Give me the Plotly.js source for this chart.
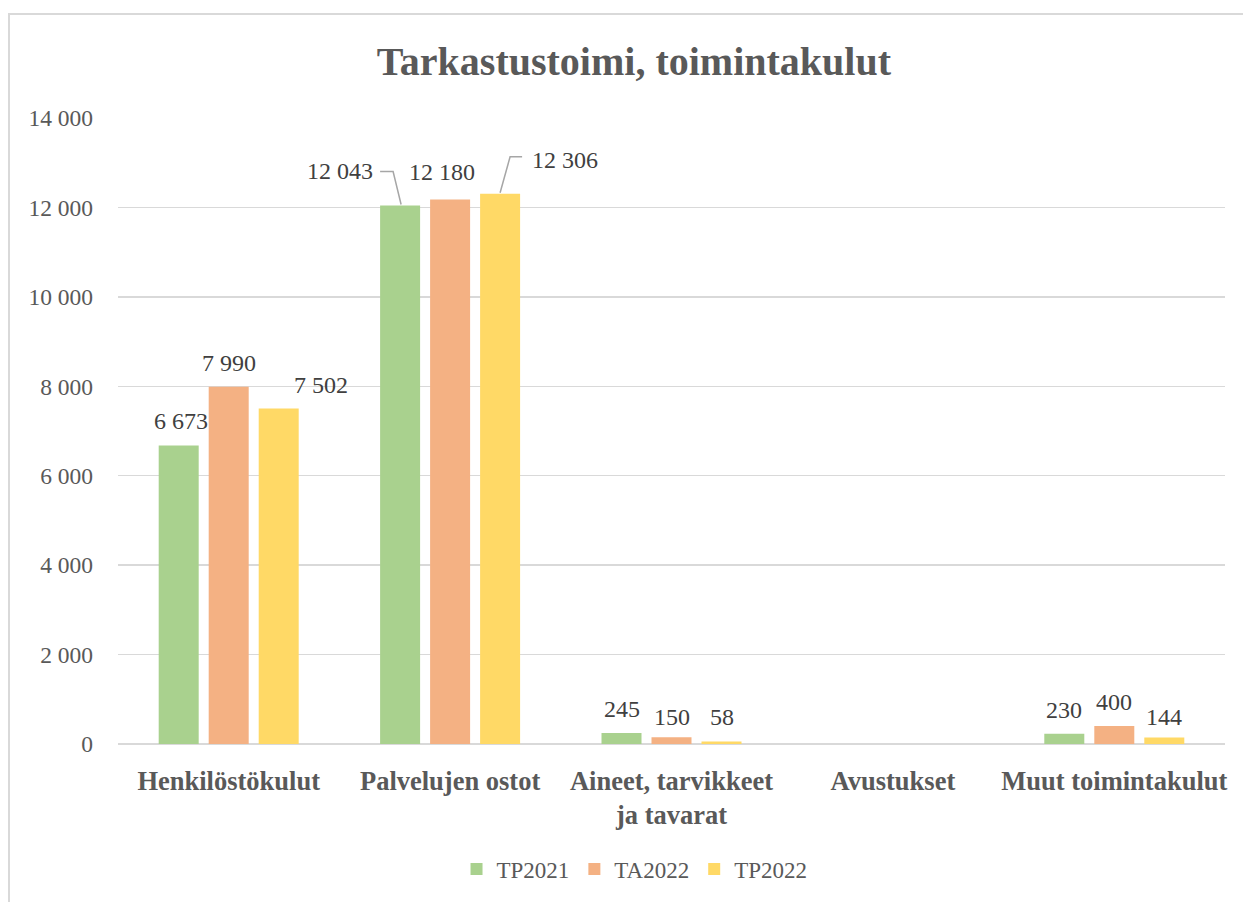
<!DOCTYPE html>
<html>
<head>
<meta charset="utf-8">
<script src="https://cdn.plot.ly/plotly-3.0.1.min.js"></script>
<style>
  html, body { margin: 0; padding: 0; background: #ffffff; overflow: hidden; }
  #frame { position: absolute; left: 8px; top: 13px; width: 1400px; height: 1100px;
           border: 2px solid #d9d9d9; box-sizing: border-box; }
  #chart { position: absolute; left: 0; top: 0; width: 1243px; height: 902px; }
</style>
</head>
<body>
<div id="frame"></div>
<div id="chart"></div>
<script>
const categories = ["Henkilöstökulut", "Palvelujen ostot", "Aineet, tarvikkeet<br>ja tavarat", "Avustukset", "Muut toimintakulut"];
const seriesNames = ["TP2021", "TA2022", "TP2022"];
const tp2021 = [6673, 12043, 245, null, 230];
const ta2022 = [7990, 12180, 150, null, 400];
const tp2022 = [7502, 12306, 58, null, 144];
const yTicks = [0, 2000, 4000, 6000, 8000, 10000, 12000, 14000];

const colors = ["#a9d18e", "#f4b183", "#ffd966"];
const seriesValues = [tp2021, ta2022, tp2022];
const FONT = "Liberation Serif, DejaVu Serif, serif";

const traces = seriesValues.map((vals, i) => ({
  type: "bar",
  name: seriesNames[i],
  x: categories,
  y: vals,
  marker: { color: colors[i] },
  hoverinfo: "x+y+name"
}));

// label placement tweaks (pixels), per series / category
// leader: elbow leader line (pixel offsets from the bar-top centre, y up)
const labelOffsets = {
  "0-1": { dx: -25, dy: 11, anchor: "right", leader: [[1, 1], [-7, 34], [-20, 34]] },
  "2-1": { dx: 30, dy: 10, anchor: "left", leader: [[0, 1], [10, 37], [22, 37]] },
  "2-0": { dx: 42, dy: 0 },
  "1-1": { dx: -8, dy: 3 },
  "0-0": { dx: 2, dy: 1 },
  "1-2": { dy: -4 },
  "2-4": { dy: -3 }
};

function fmt(v) {
  return String(v).replace(/\B(?=(\d{3})+(?!\d))/g, "\u00a0");
}

const annotations = [];
const shapes = [];
seriesValues.forEach((vals, i) => {
  vals.forEach((v, j) => {
    if (v === null) return;
    const key = i + "-" + j;
    const o = labelOffsets[key] || {};
    const barShift = (i - 1) * 50;
    annotations.push({
      x: categories[j], y: v, xref: "x", yref: "y",
      text: fmt(v), showarrow: false,
      xanchor: o.anchor || "center",
      xshift: barShift + (o.dx || 0), yshift: 24 + (o.dy || 0),
      font: { family: FONT, size: 24, color: "#404040" }
    });
    if (o.leader) {
      const path = o.leader.map((p, k) => (k ? "L" : "M") + " " + (barShift + p[0]) + " " + p[1]).join(" ");
      shapes.push({
        type: "path", xref: "x", yref: "y",
        xsizemode: "pixel", ysizemode: "pixel",
        xanchor: j, yanchor: v,
        path: path,
        line: { color: "#a6a6a6", width: 1.5 }
      });
    }
  });
});

const layout = {
  width: 1243, height: 902,
  paper_bgcolor: "rgba(0,0,0,0)",
  plot_bgcolor: "rgba(0,0,0,0)",
  margin: { l: 118, r: 18, t: 118, b: 157 },
  separators: ", ",
  title: {
    text: "<b>Tarkastustoimi, toimintakulut</b>",
    x: 0.51, xref: "container", xanchor: "center", y: 0.932, yanchor: "middle",
    font: { family: FONT, size: 40, color: "#595959" }
  },
  barmode: "group",
  bargap: 0.3225,
  bargroupgap: 0.2,
  xaxis: {
    type: "category",
    tickfont: { family: FONT, size: 26.5, color: "#595959", weight: "bold" },
    ticklabelstandoff: 18,
    showgrid: false,
    showline: false,
    ticks: ""
  },
  yaxis: {
    range: [0, 14000],
    tickvals: yTicks,
    tickformat: ",d",
    tickfont: { family: FONT, size: 23.5, color: "#595959" },
    ticklabelstandoff: 24,
    showgrid: true,
    gridcolor: "#d9d9d9",
    gridwidth: 1.5,
    zeroline: true,
    zerolinecolor: "#d9d9d9",
    zerolinewidth: 2,
    showline: false,
    ticks: ""
  },
  legend: {
    orientation: "h",
    x: 0.4666, xanchor: "center",
    y: -0.198, yanchor: "middle",
    font: { family: FONT, size: 23, color: "#595959" },
    itemwidth: 30
  },
  annotations: annotations,
  shapes: shapes,
  showlegend: true
};

Plotly.newPlot("chart", traces, layout, { displayModeBar: false, staticPlot: true });
</script>
</body>
</html>
